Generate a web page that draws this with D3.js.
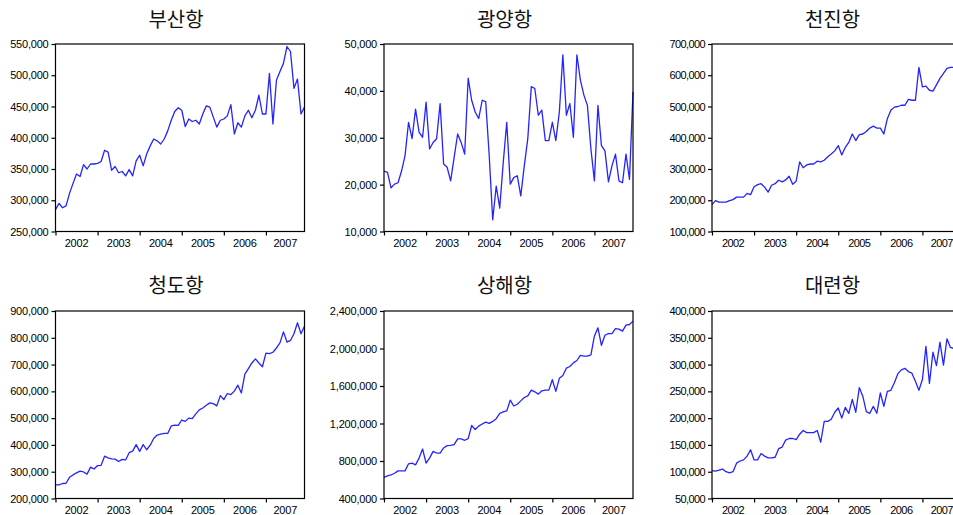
<!DOCTYPE html>
<html>
<head>
<meta charset="utf-8">
<script src="https://cdn.jsdelivr.net/npm/d3@7"></script>
<style>
  html, body { margin: 0; padding: 0; background: #fff; overflow: hidden; }
  svg { display: block; }
  .tick text { font-family: "Liberation Sans", Arial, sans-serif; fill: #000; }
</style>
</head>
<body>
<svg id="chart" width="953" height="515"></svg>
<script>
// Monthly periods, Jan 2002 – Dec 2007
const months = d3.timeMonth.range(new Date(2002, 0, 1), new Date(2008, 0, 1)).map(d3.timeFormat("%Y-%m"));
const yearLabels = ["2002", "2003", "2004", "2005", "2006", "2007"];
const portNames = ["부산항", "광양항", "천진항", "청도항", "상해항", "대련항"];

// Monthly container throughput (TEU)
const busan = [
  285000, 295000, 288000, 291000, 311000, 327000, 342000, 338000, 357000, 350000, 358000, 358000,
  359000, 362000, 380000, 377000, 348000, 354000, 344000, 346000, 339000, 349000, 339000, 363000,
  372000, 355000, 374000, 387000, 398000, 395000, 390000, 398000, 411000, 428000, 442000, 448000,
  444000, 418000, 430000, 426000, 428000, 422000, 438000, 451000, 449000, 433000, 417000, 428000,
  430000, 435000, 453000, 406000, 424000, 417000, 435000, 444000, 432000, 444000, 468000, 438000,
  438000, 503000, 422000, 492000, 506000, 519000, 546000, 538000, 479000, 494000, 438000, 449000
];
const gwangyang = [
  22900, 22600, 19300, 20100, 20400, 22900, 26200, 33300, 29800, 36100, 31200, 30100,
  37600, 27600, 29000, 29800, 37300, 24400, 23700, 20800, 25800, 30800, 29000, 26500,
  42700, 38000, 35500, 34100, 38000, 37700, 26200, 12500, 19700, 15000, 24700, 33300,
  20100, 21500, 21900, 17600, 24000, 29800, 40900, 40500, 34800, 35900, 29400, 29400,
  33300, 29400, 35500, 47700, 34800, 37300, 30100, 47700, 42300, 39100, 36900, 27600,
  20800, 36900, 28300, 27200, 20600, 24000, 26500, 20800, 20400, 26500, 21100, 39800
];
const tianjin = [
  186000, 199000, 194000, 194000, 194000, 199000, 202000, 210000, 210000, 210000, 222000, 218000,
  243000, 250000, 253000, 242000, 226000, 248000, 253000, 264000, 259000, 265000, 277000, 251000,
  261000, 323000, 304000, 313000, 316000, 316000, 325000, 323000, 328000, 339000, 348000, 358000,
  375000, 345000, 369000, 385000, 412000, 391000, 410000, 412000, 420000, 431000, 437000, 431000,
  431000, 412000, 461000, 488000, 498000, 500000, 504000, 504000, 523000, 520000, 520000, 625000,
  563000, 565000, 552000, 549000, 569000, 590000, 606000, 622000, 625000, 625000, 627000, 630000
];
const qingdao = [
  251000, 251000, 256000, 257000, 279000, 288000, 296000, 302000, 299000, 291000, 317000, 310000,
  323000, 324000, 358000, 352000, 348000, 347000, 338000, 346000, 344000, 371000, 377000, 401000,
  376000, 401000, 382000, 399000, 424000, 437000, 440000, 443000, 443000, 471000, 474000, 473000,
  493000, 488000, 500000, 498000, 516000, 531000, 538000, 548000, 557000, 554000, 546000, 584000,
  569000, 592000, 588000, 601000, 623000, 594000, 664000, 685000, 706000, 721000, 706000, 692000,
  743000, 741000, 746000, 762000, 781000, 822000, 784000, 790000, 815000, 856000, 815000, 843000
];
const shanghai = [
  626000, 641000, 651000, 669000, 695000, 695000, 695000, 770000, 777000, 759000, 831000, 928000,
  777000, 831000, 903000, 885000, 885000, 939000, 964000, 967000, 975000, 1036000, 1036000, 1021000,
  1039000, 1179000, 1136000, 1172000, 1194000, 1215000, 1201000, 1222000, 1251000, 1308000, 1323000, 1334000,
  1449000, 1387000, 1405000, 1441000, 1477000, 1495000, 1556000, 1538000, 1513000, 1549000, 1556000, 1556000,
  1667000, 1542000, 1682000, 1711000, 1790000, 1808000, 1847000, 1872000, 1926000, 1919000, 1919000, 1933000,
  2134000, 2220000, 2034000, 2141000, 2159000, 2159000, 2213000, 2206000, 2185000, 2249000, 2256000, 2292000
];
const dalian = [
  102000, 101000, 103000, 105000, 100000, 98000, 100000, 116000, 120000, 122000, 129000, 141000,
  122000, 122000, 134000, 129000, 126000, 126000, 127000, 143000, 146000, 159000, 162000, 162000,
  160000, 170000, 177000, 173000, 173000, 173000, 177000, 155000, 194000, 194000, 198000, 211000,
  219000, 200000, 220000, 209000, 235000, 211000, 257000, 241000, 212000, 209000, 222000, 209000,
  247000, 222000, 250000, 252000, 266000, 283000, 290000, 293000, 287000, 284000, 269000, 252000,
  272000, 334000, 265000, 323000, 298000, 342000, 299000, 348000, 332000, 330000, 340000, 345000
];

// Value-axis tick labels for each port
const busanTicks     = [250000, 300000, 350000, 400000, 450000, 500000, 550000];
const gwangyangTicks = [10000, 20000, 30000, 40000, 50000];
const tianjinTicks   = [100000, 200000, 300000, 400000, 500000, 600000, 700000];
const qingdaoTicks   = [200000, 300000, 400000, 500000, 600000, 700000, 800000, 900000];
const shanghaiTicks  = [400000, 800000, 1200000, 1600000, 2000000, 2400000];
const dalianTicks    = [50000, 100000, 150000, 200000, 250000, 300000, 350000, 400000];

const seriesList = [busan, gwangyang, tianjin, qingdao, shanghai, dalian];
const tickList = [busanTicks, gwangyangTicks, tianjinTicks, qingdaoTicks, shanghaiTicks, dalianTicks];

// Grid of small multiples
const colX = [55.5, 384, 712];
const rowY = [44, 311];
const W = 249, H = 187.5;

const svg = d3.select("#chart");
svg.append("rect").attr("width", 953).attr("height", 515).attr("fill", "#fff");

const janIdx = months.map((m, i) => (m.endsWith("-01") ? i : null)).filter(v => v !== null);

portNames.forEach((name, i) => {
  const col = i % 3, row = Math.floor(i / 3);
  const values = seriesList[i], ticks = tickList[i];
  const g = svg.append("g").attr("transform", `translate(${colX[col]},${rowY[row]})`);

  const x = d3.scaleLinear().domain([0, months.length - 1]).range([0, W]);
  const y = d3.scaleLinear().domain(d3.extent(ticks)).range([H, 0]);

  // Title
  g.append("text")
    .attr("x", W / 2 - 4)
    .attr("y", row === 0 ? -17 : -18)
    .attr("text-anchor", "middle")
    .attr("font-family", "'Noto Sans CJK KR', sans-serif")
    .attr("font-size", 20)
    .attr("fill", "#111")
    .text(name);

  // Value axis
  const yAxis = g.append("g")
    .call(d3.axisLeft(y).tickValues(ticks).tickFormat(d3.format(",")).tickSize(4).tickPadding(3));
  yAxis.select(".domain").remove();
  yAxis.selectAll(".tick line").attr("stroke", "#000").attr("stroke-width", 1.2);
  yAxis.selectAll(".tick text")
    .attr("font-size", 11)
    .attr("letter-spacing", col === 2 ? "-0.6px" : "-0.2px");

  // Time axis: tick at each January, year label centred in its span
  const xAxis = g.append("g").attr("transform", `translate(0,${H})`)
    .call(d3.axisBottom(x).tickValues(janIdx).tickSize(4).tickFormat(""));
  xAxis.select(".domain").remove();
  xAxis.selectAll(".tick line").attr("stroke", "#000").attr("stroke-width", 1.2);

  g.append("g").selectAll("text")
    .data(yearLabels)
    .join("text")
    .attr("x", (d, k) => {
      const a = x(janIdx[k]);
      const b = k + 1 < janIdx.length ? x(janIdx[k + 1]) : W;
      return (a + b) / 2;
    })
    .attr("y", H + 15.5)
    .attr("text-anchor", "middle")
    .attr("font-family", "'Liberation Sans', Arial, sans-serif")
    .attr("font-size", 11)
    .attr("letter-spacing", col === 2 ? "-0.6px" : "-0.2px")
    .attr("fill", "#000")
    .text(d => d);

  // Series line
  g.append("path")
    .datum(values)
    .attr("fill", "none")
    .attr("stroke", "#2424ff")
    .attr("stroke-width", 1.3)
    .attr("stroke-linejoin", "round")
    .attr("d", d3.line().x((d, j) => x(j)).y(d => y(d)));

  // Plot frame
  g.append("rect")
    .attr("width", W)
    .attr("height", H)
    .attr("fill", "none")
    .attr("stroke", "#000")
    .attr("stroke-width", 1.2);
});
</script>
</body>
</html>
